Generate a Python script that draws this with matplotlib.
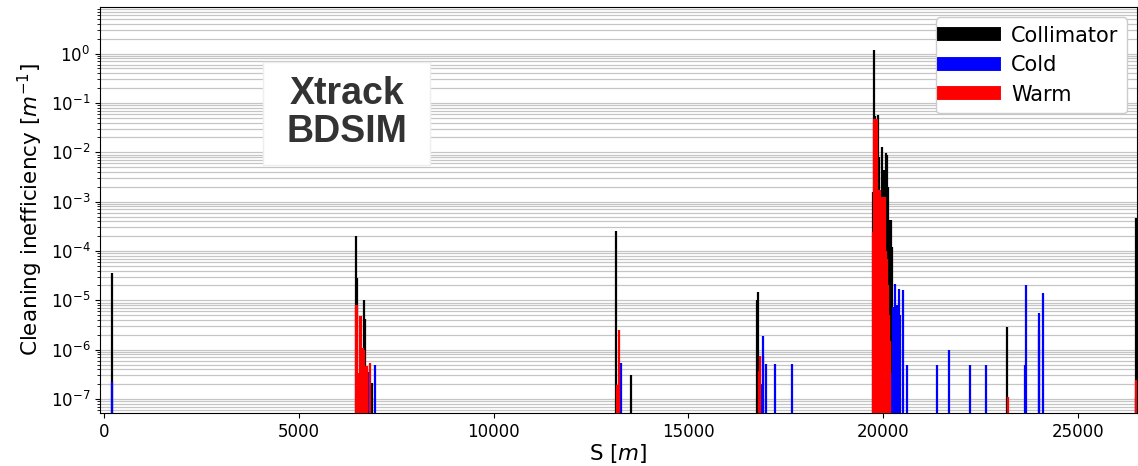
"""
Loss map: cleaning inefficiency along the ring (Xtrack / BDSIM).
Collimator, cold and warm losses drawn as thin vertical bars on a log axis.
"""
import matplotlib.pyplot as plt
from matplotlib.lines import Line2D
from matplotlib.patches import Rectangle

# ---- data (S in m, inefficiency in 1/m) ----
coll_s = [205, 6468, 6494, 6674, 6699, 6743, 6802, 6879,
          13149, 13527, 16761, 16779,
          19738, 19764, 19800, 19867, 19900, 19962, 20021, 20070, 20100,
          20132, 20175, 20195, 20210, 20226,
          23170, 26480]
coll_v = [3.6e-5, 2.0e-4, 2.9e-5, 1.0e-5, 4.1e-6, 3.9e-7, 1.1e-7, 2.1e-7,
          2.6e-4, 3.1e-7, 1.0e-5, 1.5e-5,
          1.6e-3, 1.17, 5.4e-2, 5.7e-2, 8.0e-3, 1.3e-2, 4.3e-3, 9.5e-3, 9.0e-3,
          2.0e-3, 4.3e-4, 4.3e-4, 1.0e-5, 1.2e-4,
          2.9e-6, 4.6e-4]

cold_s = [205, 6802, 6950, 13262,
          16863, 16907, 16923, 16999, 17223, 17651,
          20205, 20230, 20260, 20295, 20330, 20364, 20406, 20440, 20500, 20611,
          21373, 21681, 22220, 22639, 23650, 23673, 23990, 23999, 24101, 26480]
cold_v = [2.2e-7, 3.5e-7, 4.8e-7, 5.3e-7,
          2.0e-7, 1.9e-6, 7.6e-7, 5.1e-7, 5.1e-7, 5.1e-7,
          3.4e-7, 3.4e-7, 7.4e-6, 2.1e-5, 7.4e-6, 8.0e-6, 1.7e-5, 5.0e-6, 1.6e-5, 4.9e-7,
          5.0e-7, 1.0e-6, 5.0e-7, 5.0e-7, 5.0e-7, 2.0e-5, 2.5e-6, 5.6e-6, 1.4e-5, 1.1e-7]

warm_s = [6468, 6494, 6520, 6545, 6571, 6597, 6622, 6648, 6674, 6699, 6725, 6750, 6828,
          13175, 13200, 13226, 16812, 16838,
          19738, 19764, 19790, 19815, 19841, 19867, 19892, 19918, 19943, 19969,
          19995, 20021, 20046, 20072, 20097, 20123, 20149, 20175,
          23211, 26480]
warm_v = [8.0e-6, 8.0e-6, 3.4e-7, 3.4e-7, 4.8e-6, 4.8e-6, 4.0e-7, 1.1e-6, 1.0e-6, 4.0e-7, 4.6e-7, 4.6e-7, 5.3e-7,
          1.9e-7, 1.9e-7, 2.5e-6, 3.7e-7, 7.5e-7,
          2.4e-4, 4.8e-2, 4.8e-2, 4.8e-2, 4.8e-2, 1.7e-3, 1.7e-3, 1.7e-3, 3.5e-5, 1.25e-3,
          1.25e-3, 1.25e-3, 1.25e-3, 1.0e-4, 7.0e-5, 2.0e-5, 5.0e-6, 1.5e-6,
          1.1e-7, 2.4e-7]

YMIN, YMAX = 5.2e-8, 8.8

fig = plt.figure(figsize=(11.38, 4.66), dpi=100)
ax = fig.add_axes([0.0879, 0.1137, 0.9113, 0.8712])

ax.vlines(coll_s, 1e-12, coll_v, color="black", linewidth=1.6, zorder=3)
ax.vlines(cold_s, 1e-12, cold_v, color="blue", linewidth=1.6, zorder=4)
ax.vlines(warm_s, 1e-12, warm_v, color="red", linewidth=1.6, zorder=5)

ax.set_yscale("log")
ax.set_ylim(YMIN, YMAX)
ax.set_xlim(-100, 26520)
ax.grid(True, which="both", axis="y", color="grey", alpha=0.45, linewidth=0.9)
ax.set_axisbelow(True)
ax.tick_params(labelsize=12)

ax.set_xlabel("S [$m$]", fontsize=15.5, labelpad=1)
ax.set_ylabel("Cleaning inefficiency [$m^{-1}$]", fontsize=15.5)

# label box
ax.add_patch(Rectangle((0.157, 0.611), 0.161, 0.254, transform=ax.transAxes,
                       facecolor="white", edgecolor="#eeeeee", zorder=2))
ax.text(0.238, 0.739, "Xtrack\nBDSIM", transform=ax.transAxes, ha="center",
        va="center", fontsize=27, fontweight="bold", color="#333333",
        family="Liberation Sans", linespacing=1.05, zorder=6)

handles = [Line2D([], [], color=c, linewidth=10) for c in ("black", "blue", "red")]
ax.legend(handles, ["Collimator", "Cold", "Warm"], loc="upper right",
          fontsize=15, handlelength=2.4, labelspacing=0.45, framealpha=1,
          borderaxespad=0.5)

fig.savefig("out.png", dpi=100)
